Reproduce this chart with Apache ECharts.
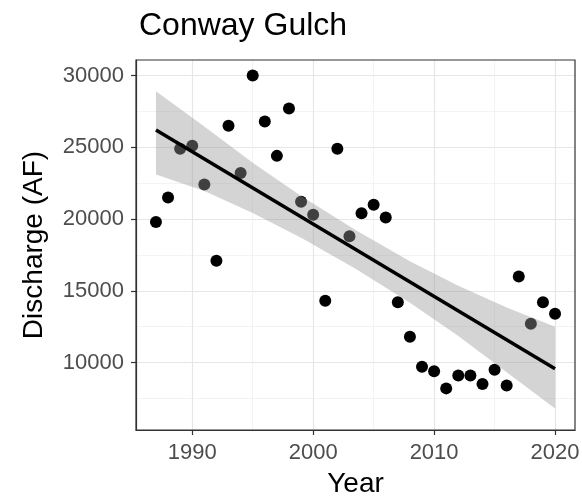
<!DOCTYPE html>
<html>
<head>
<meta charset="utf-8">
<script src="https://cdn.jsdelivr.net/npm/echarts@6/dist/echarts.min.js"></script>
<style>
  html, body { margin: 0; padding: 0; background: #fff; }
  #main { width: 582px; height: 499px; }
</style>
</head>
<body>
<div id="main"></div>
<script>
// data
var years = [1987, 1988, 1989, 1990, 1991, 1992, 1993, 1994, 1995, 1996, 1997, 1998,
    1999, 2000, 2001, 2002, 2003, 2004, 2005, 2006, 2007, 2008, 2009, 2010,
    2011, 2012, 2013, 2014, 2015, 2016, 2017, 2018, 2019, 2020];
var discharge = [19800, 21500, 24900, 25100, 22400, 17100, 26500, 23200, 30000, 26800, 24400, 27700,
    21200, 20300, 14300, 24900, 18800, 20400, 21000, 20100, 14200, 11800, 9700, 9400,
    8200, 9100, 9100, 8500, 9500, 8400, 16000, 12700, 14200, 13400];

// fitted line and its band
var fitYears = [1987, 2020];
var fitValues = [26210, 9560];
var bandYears = [1987, 1991, 1995, 1999, 2003.5, 2008, 2012, 2016, 2020];
var bandLower = [23100, 21950, 20420, 18700, 16530, 14170, 11850, 9330, 6800];
var bandUpper = [28900, 26450, 23920, 21600, 19240, 17060, 15350, 13830, 12500];

var xMajor = [1990, 2000, 2010, 2020];
var xMinor = [1995, 2005, 2015];
var yMajor = [10000, 15000, 20000, 25000, 30000];
var yMinor = [7500, 12500, 17500, 22500, 27500];

var FONT = 'Liberation Sans';
var myChart = echarts.init(document.getElementById('main'));

function makeAxis(dim, min, max, major, minor) {
    var isX = dim === 'x';
    return [{
        type: 'value',
        min: min,
        max: max,
        name: isX ? 'Year' : 'Discharge (AF)',
        nameLocation: 'middle',
        nameGap: isX ? 40 : 88,
        nameTextStyle: { fontFamily: FONT, fontSize: 28, color: '#000' },
        axisLine: { show: true, onZero: false, lineStyle: { color: '#333', width: 1.2 } },
        axisTick: { show: true, length: 5, lineStyle: { color: '#333', width: 1.2 }, customValues: major },
        axisLabel: {
            fontFamily: FONT, fontSize: 22, color: '#4d4d4d', margin: 12, customValues: major,
            formatter: function (v) { return String(v); }
        },
        splitLine: { show: true, lineStyle: { color: '#e6e6e6', width: 1.2 } }
    }, {
        // second axis only for the minor grid lines
        type: 'value',
        min: min,
        max: max,
        position: isX ? 'top' : 'right',
        axisLine: { show: false },
        axisTick: { show: true, length: 0, customValues: minor },
        axisLabel: { show: false, customValues: minor },
        splitLine: { show: true, lineStyle: { color: '#f0f0f0', width: 0.8 } }
    }];
}

option = {
    animation: false,
    title: {
        text: 'Conway Gulch',
        left: 134,
        top: 5,
        textStyle: { fontFamily: FONT, fontSize: 32, fontWeight: 'normal', color: '#000' }
    },
    grid: {
        left: 136,
        right: 7,
        top: 60,
        bottom: 69,
        outerBoundsMode: 'none'
    },
    xAxis: makeAxis('x', 1985.35, 2021.65, xMajor, xMinor),
    yAxis: makeAxis('y', 5300, 31080, yMajor, yMinor),
    series: [{
        type: 'scatter',
        data: years.map(function (y, i) { return [y, discharge[i]]; }),
        symbolSize: 12,
        itemStyle: { color: '#000', opacity: 1 },
        z: 2
    }, {
        type: 'custom',
        data: [0],
        renderItem: function (params, api) {
            var pts = [];
            for (var i = 0; i < bandYears.length; i++) {
                pts.push(api.coord([bandYears[i], bandUpper[i]]));
            }
            for (var j = bandYears.length - 1; j >= 0; j--) {
                pts.push(api.coord([bandYears[j], bandLower[j]]));
            }
            return {
                type: 'polygon',
                shape: { points: pts },
                style: { fill: '#999999', opacity: 0.42 }
            };
        },
        z: 3
    }, {
        type: 'line',
        data: fitYears.map(function (y, i) { return [y, fitValues[i]]; }),
        symbol: 'none',
        lineStyle: { color: '#000', width: 3.5 },
        z: 4
    }, {
        // panel border
        type: 'custom',
        data: [0],
        silent: true,
        renderItem: function (params) {
            var cs = params.coordSys;
            return {
                type: 'rect',
                shape: { x: cs.x, y: cs.y, width: cs.width, height: cs.height },
                style: { fill: null, stroke: '#333', lineWidth: 1.2 }
            };
        },
        z: 5
    }]
};

myChart.setOption(option);
</script>
</body>
</html>
